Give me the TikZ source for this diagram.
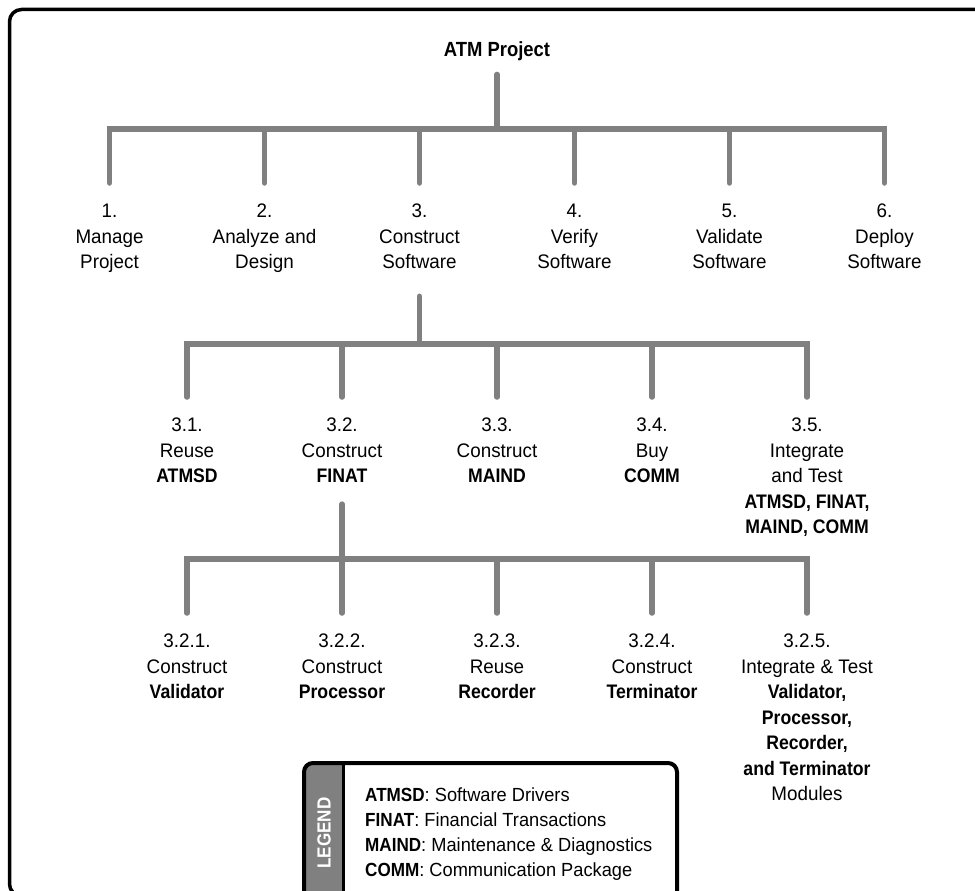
\documentclass[tikz,border=0pt]{standalone}
\usepackage{fontspec}
\setmainfont{Liberation Sans}[FakeStretch=0.96,BoldFeatures={FakeStretch=0.9}]
\begin{document}
\definecolor{conngray}{RGB}{128,128,128}
\definecolor{legendgray}{RGB}{128,128,128}
\begin{tikzpicture}[x=1pt,y=-1pt,
  conn/.style={draw=conngray,line width=5.5pt,line cap=round,line join=miter},
  wbs/.style={anchor=north,align=center,inner xsep=2pt,inner ysep=21pt,
    font=\fontsize{19.6}{25.5}\selectfont},
  rootlabel/.style={anchor=base,inner xsep=2pt,inner ysep=13pt,
    font=\fontsize{20.5}{25.5}\selectfont\bfseries},
  legendtext/.style={anchor=north west,align=left,inner sep=0pt,
    font=\fontsize{19}{25}\selectfont}]
\useasboundingbox (0,0) rectangle (975,891);

% outer frame
\draw[line width=3.5pt,rounded corners=12pt] (9.5,9.5) rectangle (995,896);

% root
\node[rootlabel] (root) at (497,57) {ATM Project};

% level 1
\coordinate (bar1) at (497,129);
\node[wbs] (n1) at (109.5,183) {1.\\Manage\\Project};
\node[wbs] (n2) at (264.5,183) {2.\\Analyze and\\Design};
\node[wbs] (n3) at (419.5,183) {3.\\Construct\\Software};
\node[wbs] (n4) at (574.5,183) {4.\\Verify\\Software};
\node[wbs] (n5) at (729.5,183) {5.\\Validate\\Software};
\node[wbs] (n6) at (884.5,183) {6.\\Deploy\\Software};

\draw[conn] (root.south) -- (root.south |- bar1);
\draw[conn] (n1.north) -- (n1.north |- bar1) -- (n6.north |- bar1) -- (n6.north);
\foreach \n in {n2,n3,n4,n5}
  \draw[conn] (\n.north) -- (\n.north |- bar1);

% level 2
\coordinate (bar2) at (497,344);
\node[wbs] (n31) at (187,397) {3.1.\\Reuse\\\textbf{ATMSD}};
\node[wbs] (n32) at (342,397) {3.2.\\Construct\\\textbf{FINAT}};
\node[wbs] (n33) at (497,397) {3.3.\\Construct\\\textbf{MAIND}};
\node[wbs] (n34) at (652,397) {3.4.\\Buy\\\textbf{COMM}};
\node[wbs] (n35) at (807,397) {3.5.\\Integrate\\and Test\\\textbf{ATMSD, FINAT,}\\\textbf{MAIND, COMM}};

\draw[conn] ([yshift=-6pt]n3.south) -- (n3.south |- bar2);
\draw[conn] (n31.north) -- (n31.north |- bar2) -- (n35.north |- bar2) -- (n35.north);
\foreach \n in {n32,n33,n34}
  \draw[conn] (\n.north) -- (\n.north |- bar2);

% level 3
\coordinate (bar3) at (497,559);
\node[wbs] (n321) at (187,613) {3.2.1.\\Construct\\\textbf{Validator}};
\node[wbs] (n322) at (342,613) {3.2.2.\\Construct\\\textbf{Processor}};
\node[wbs] (n323) at (497,613) {3.2.3.\\Reuse\\\textbf{Recorder}};
\node[wbs] (n324) at (652,613) {3.2.4.\\Construct\\\textbf{Terminator}};
\node[wbs] (n325) at (807,613) {3.2.5.\\Integrate \& Test\\\textbf{Validator,}\\\textbf{Processor,}\\\textbf{Recorder,}\\\textbf{and Terminator}\\Modules};

\draw[conn] (n32.south) -- (n32.south |- bar3);
\draw[conn] (n321.north) -- (n321.north |- bar3) -- (n325.north |- bar3) -- (n325.north);
\foreach \n in {n322,n323,n324}
  \draw[conn] (\n.north) -- (\n.north |- bar3);

% legend
\fill[legendgray] (304,905) [rounded corners=9pt] -- (304,763) [sharp corners] -- (344,763) -- (344,905) -- cycle;
\draw[line width=3pt] (343.5,763) -- (343.5,905);
\draw[line width=4pt,rounded corners=9pt] (304,763) rectangle (677,905);
\node[rotate=90,text=white,font=\fontsize{19}{22}\selectfont\bfseries,inner sep=0pt] (legendtitle) at (324,833) {LEGEND};
\node[legendtext] (legenditems) at (365,788) {\textbf{ATMSD}: Software Drivers\\
\textbf{FINAT}: Financial Transactions\\
\textbf{MAIND}: Maintenance \& Diagnostics\\
\textbf{COMM}: Communication Package};
\end{tikzpicture}
\end{document}
